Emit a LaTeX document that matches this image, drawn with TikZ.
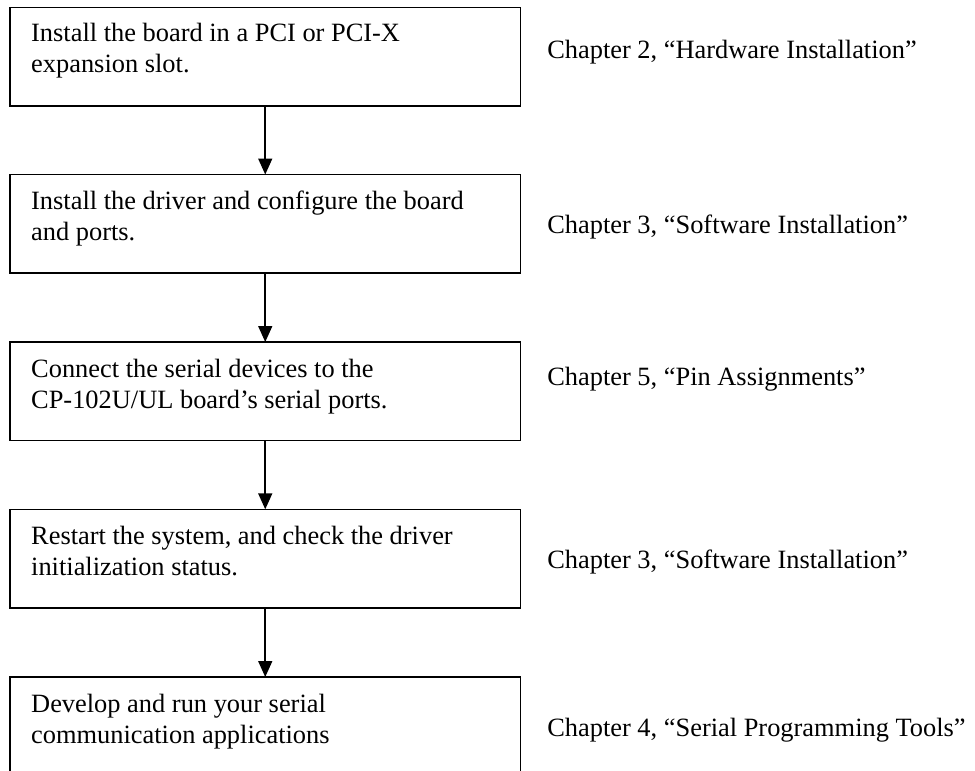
\documentclass[tikz,border=0pt]{standalone}
\usepackage{fontspec}
\setmainfont{Liberation Serif}
\usetikzlibrary{arrows.meta}
\begin{document}
\begin{tikzpicture}[x=1pt,y=-1pt,
  stepbox/.style={draw=black, line width=1.6pt, minimum width=510.5pt, minimum height=98.5pt, anchor=north west, inner sep=0pt, outer sep=0pt},
  lastbox/.style={stepbox, minimum height=130pt},
  steptext/.style={anchor=base west, inner sep=0pt, outer sep=0pt, font=\fontsize{26.4}{31}\selectfont},
  chaptext/.style={anchor=base west, inner sep=0pt, outer sep=0pt, font=\fontsize{26.4}{31}\selectfont},
  flow/.style={line width=1.6pt, -{Triangle[length=16pt,width=14pt]}}]
\useasboundingbox (0,0) rectangle (975,771);
\clip (0,0) rectangle (975,771);
\fill[white] (0,0) rectangle (975,771);

% boxes
\node[stepbox] (b1) at (10,7.3) {};
\node[stepbox] (b2) at (10,174.5) {};
\node[stepbox] (b3) at (10,342.0) {};
\node[stepbox] (b4) at (10,509.3) {};
\node[lastbox] (b5) at (10,677.0) {};

% box texts
\node[steptext] (t1a) at (31.2,41.5) {Install the board in a PCI or PCI-X};
\node[steptext] (t1b) at (31.2,72.0) {expansion slot.};
\node[steptext] (t2a) at (31.2,209.5) {Install the driver and configure the board};
\node[steptext] (t2b) at (31.2,240.5) {and ports.};
\node[steptext] (t3a) at (31.2,377.0) {Connect the serial devices to the};
\node[steptext] (t3b) at (31.2,408.0) {CP-102U/UL board’s serial ports.};
\node[steptext] (t4a) at (31.2,544.0) {Restart the system, and check the driver};
\node[steptext] (t4b) at (31.2,575.0) {initialization status.};
\node[steptext] (t5a) at (31.2,712.0) {Develop and run your serial};
\node[steptext] (t5b) at (31.2,743.0) {communication applications};

% chapter references
\node[chaptext] (c1) at (547.3,58.3) {Chapter 2, “Hardware Installation”};
\node[chaptext] (c2) at (547.3,233.3) {Chapter 3, “Software Installation”};
\node[chaptext] (c3) at (547.3,385.0) {Chapter 5, “Pin Assignments”};
\node[chaptext] (c4) at (547.3,568.3) {Chapter 3, “Software Installation”};
\node[chaptext] (c5) at (547.3,736.0) {Chapter 4, “Serial Programming Tools”};

% connectors
\draw[flow] (b1.south) -- (b2.north);
\draw[flow] (b2.south) -- (b3.north);
\draw[flow] (b3.south) -- (b4.north);
\draw[flow] (b4.south) -- (b5.north);
\end{tikzpicture}
\end{document}
